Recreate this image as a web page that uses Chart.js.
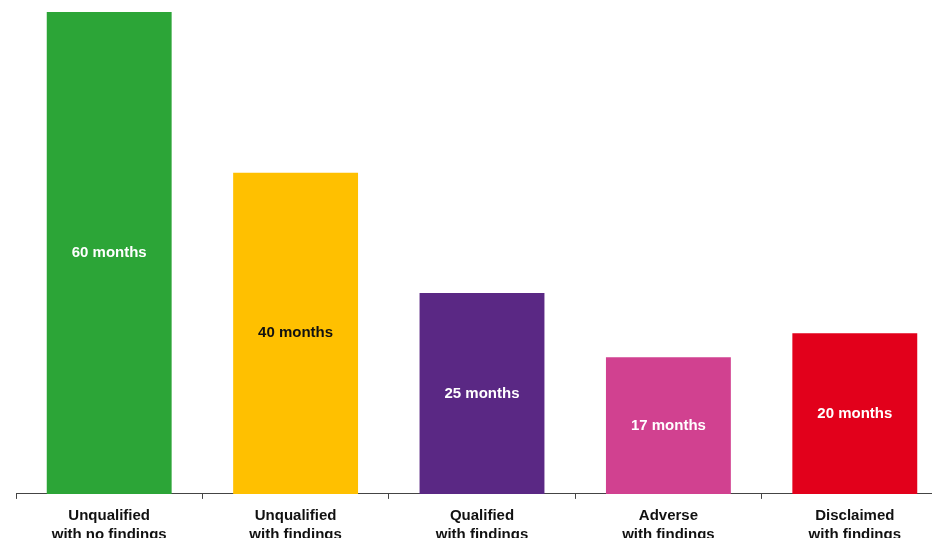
<!DOCTYPE html>
<html>
<head>
<meta charset="utf-8">
<script src="https://cdn.jsdelivr.net/npm/chart.js@4/dist/chart.umd.min.js"></script>
<style>
  html, body { margin: 0; padding: 0; background: #fff; overflow: hidden; }
  #wrap { width: 960px; height: 551px; }
</style>
</head>
<body>
<div id="wrap"><canvas id="durationChart" width="960" height="551"></canvas></div>
<script>
// Audit opinion categories and average duration (months)
const categories = [
  ['Unqualified', 'with no findings'],
  ['Unqualified', 'with findings'],
  ['Qualified', 'with findings'],
  ['Adverse', 'with findings'],
  ['Disclaimed', 'with findings']
];
const months = [60, 40, 25, 17, 20];
const barColors = ['#2CA537', '#FFC000', '#5A2884', '#D14190', '#E2001B'];
const labelColors = ['#ffffff', '#111111', '#ffffff', '#ffffff', '#ffffff'];

const FONT = "'Liberation Sans', Arial, sans-serif";

// writes "NN months" in the middle of each bar
const barLabels = {
  id: 'barLabels',
  afterDatasetsDraw(chart) {
    const ctx = chart.ctx;
    const meta = chart.getDatasetMeta(0);
    ctx.save();
    ctx.font = 'bold 15px ' + FONT;
    ctx.textAlign = 'center';
    ctx.textBaseline = 'middle';
    meta.data.forEach((bar, i) => {
      ctx.fillStyle = labelColors[i];
      ctx.fillText(months[i] + ' months', bar.x, (bar.y + bar.base) / 2);
    });
    ctx.restore();
  }
};

new Chart(document.getElementById('durationChart'), {
  type: 'bar',
  data: {
    labels: categories,
    datasets: [{
      data: months,
      backgroundColor: barColors,
      borderWidth: 0,
      barPercentage: 0.67,
      categoryPercentage: 1
    }]
  },
  options: {
    responsive: false,
    devicePixelRatio: 1,
    animation: false,
    layout: { padding: { top: 12, left: 16, right: 12, bottom: 0 } },
    plugins: { legend: { display: false }, tooltip: { enabled: false } },
    scales: {
      y: {
        display: false,
        min: 0,
        max: 60
      },
      x: {
        offset: true,
        grid: {
          offset: true,
          drawOnChartArea: false,
          drawTicks: true,
          tickLength: 5,
          color: '#444'
        },
        border: { display: true, color: '#444', width: 1 },
        ticks: {
          color: '#111',
          padding: 7,
          maxRotation: 0,
          font: { family: FONT, size: 15, weight: 'bold', lineHeight: 1.27 }
        }
      }
    }
  },
  plugins: [barLabels]
});
</script>
</body>
</html>
